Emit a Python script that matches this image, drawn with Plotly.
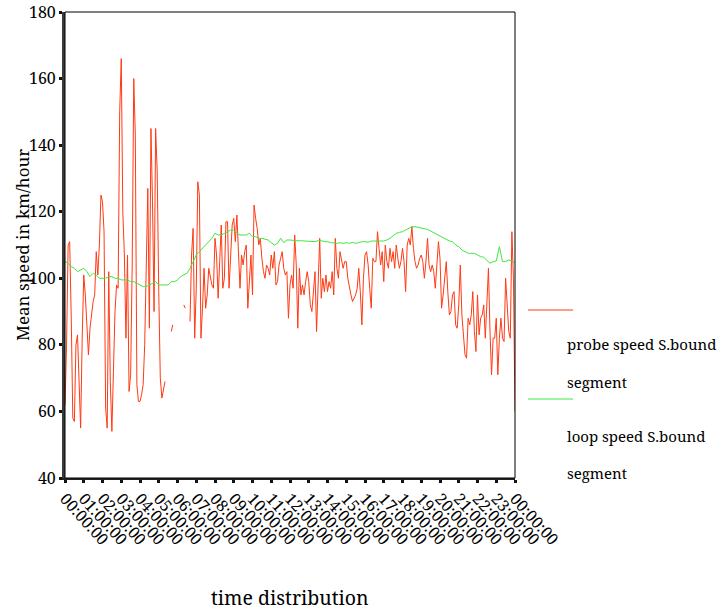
import plotly.graph_objects as go

# ---------------- data ----------------
tick_hours = list(range(25))
tick_labels = ["00:00:00", "01:00:00", "02:00:00", "03:00:00", "04:00:00",
               "05:00:00", "06:00:00", "07:00:00", "08:00:00", "09:00:00",
               "10:00:00", "11:00:00", "12:00:00", "13:00:00", "14:00:00",
               "15:00:00", "16:00:00", "17:00:00", "18:00:00", "19:00:00",
               "20:00:00", "21:00:00", "22:00:00", "23:00:00", "00:00:00"]

# probe speed, S.bound segment: one value every 5 minutes (None = no data)
probe_speed = [
    62, 80, 110, 111, 88, 58, 57, 80, 83, 66, 55, 82,            # 00h
    101, 95, 85, 77, 85, 89, 93, 95, 108, 101, 110, 125,         # 01h
    123, 114, 61, 55, 102, 69, 54, 72, 90, 98, 97, 150,          # 02h
    166, 120, 107, 82, 107, 66, 71, 104, 160, 143, 68, 63,       # 03h
    63, 65, 68, 80, 110, 127, 85, 145, 123, 90, 145, 132,        # 04h
    96, 70, 64, 67, 69, None, None, None, 84, 86, None, None,    # 05h
    None, None, None, None, 92, 91, None, None, 87, 107, 115, 82,  # 06h
    97, 129, 125, 82, 91, 103, 91, 95, 103, 101, 98, 97,         # 07h
    112, 107, 94, 105, 116, 97, 100, 117, 117, 97, 105, 116,     # 08h
    118, 111, 119, 108, 97, 107, 104, 108, 110, 91, 100, 107,    # 09h
    95, 122, 118, 115, 110, 112, 106, 102, 100, 104, 103, 101,   # 10h
    107, 103, 108, 98, 99, 104, 106, 108, 103, 101, 102, 88,     # 11h
    98, 101, 97, 113, 104, 85, 103, 95, 98, 95, 99, 102,         # 12h
    99, 92, 90, 96, 102, 84, 100, 112, 94, 100, 96, 101,         # 13h
    96, 99, 97, 102, 95, 112, 103, 100, 108, 105, 103, 105,      # 14h
    105, 100, 97, 95, 93, 94, 95, 97, 103, 96, 86, 100,          # 15h
    107, 108, 104, 97, 91, 106, 105, 105, 114, 109, 104, 108,    # 16h
    99, 110, 105, 103, 109, 105, 108, 103, 110, 106, 103, 105,   # 17h
    109, 105, 96, 110, 112, 110, 115.5, 109, 105, 103, 104, 106, # 18h
    107, 105, 100, 105, 112, 104, 102, 104, 102, 97, 106, 111,   # 19h
    106, 91, 95, 100, 105, 96, 89, 90, 95, 96, 86, 85,           # 20h
    92, 104, 89, 83, 77, 76, 88, 86, 89, 96, 84, 78,             # 21h
    95, 83, 88, 89, 92, 82, 92, 103, 84, 71, 82, 82,             # 22h
    88, 71, 82, 88, 82, 81, 100, 92, 84, 82, 114, 100,           # 23h
    60,                                                          # 24h
]

# loop speed, S.bound segment: one value every 10 minutes
loop_speed = [
    105, 104.5, 103.5, 103, 102, 102.5,          # 00h
    103, 102, 100.5, 101.5, 101, 100,            # 01h
    100, 100, 100.5, 100.5, 100, 100,            # 02h
    99.5, 99.5, 99.5, 99, 99, 98.5,              # 03h
    98, 97.5, 97.5, 98, 98.5, 99,                # 04h
    98, 98, 98, 98, 99, 99,                      # 05h
    99.5, 100.5, 101, 101.5, 103, 105,           # 06h
    107, 108, 109, 110, 111, 112,                # 07h
    113.5, 113, 113, 113.5, 114, 114.5,          # 08h
    114.5, 113.5, 113, 113, 113, 113.5,          # 09h
    112.5, 112.5, 112, 112, 111.7, 111.5,        # 10h
    110.7, 110, 110.5, 112, 110.7, 111.5,        # 11h
    111.5, 111.3, 111.3, 111.3, 111.2, 111.2,    # 12h
    111, 111, 111, 111.3, 111.3, 111,            # 13h
    111, 110.7, 110.5, 110.5, 110.7, 110.5,      # 14h
    110.7, 110.5, 110.8, 110.5, 110.7, 111,      # 15h
    111, 110.8, 111.2, 111.2, 111, 111.2,        # 16h
    111.2, 111.5, 112, 112.8, 113.5, 113.8,      # 17h
    114, 114.5, 115, 115.5, 115.5, 115.3,        # 18h
    115.3, 115, 114.7, 114.2, 113.7, 113,        # 19h
    112.5, 112, 111.5, 111.2, 111, 110,          # 20h
    109.5, 108.5, 108, 107.5, 107.5, 107.5,      # 21h
    107, 106.5, 106.3, 105.5, 104.5, 105,        # 22h
    105.2, 109.5, 105, 105, 105.5, 105.2,        # 23h
    104.7,                                       # 24h
]

probe_time = [i * 5 / 60 for i in range(len(probe_speed))]
loop_time = [i * 10 / 60 for i in range(len(loop_speed))]

# ---------------- figure ----------------
FONT = "Noto Serif, DejaVu Serif, serif"
RED = "#ff3a14"
GREEN = "#3ee83e"

fig = go.Figure()
fig.add_trace(go.Scatter(x=probe_time, y=probe_speed, mode="lines",
                         line=dict(color=RED, width=1), connectgaps=False,
                         name="probe speed S.bound segment"))
fig.add_trace(go.Scatter(x=loop_time, y=loop_speed, mode="lines",
                         line=dict(color=GREEN, width=1),
                         name="loop speed S.bound segment"))

axis_common = dict(showgrid=False, zeroline=False, ticks="outside",
                   ticklen=3, tickwidth=3, tickcolor="#111",
                   ticklabeloverflow="allow", automargin=False)

fig.update_xaxes(range=[0, 24], tickvals=tick_hours, ticktext=tick_labels,
                 tickangle=48, showline=True, linecolor="#222", linewidth=2,
                 tickfont=dict(family=FONT, size=16, color="#000"),
                 **axis_common)
fig.update_yaxes(range=[40, 180], dtick=20, showline=True,
                 linecolor="#3a3a3a", linewidth=3,
                 tickfont=dict(family=FONT, size=16, color="#000"),
                 **axis_common)

fig.add_shape(type="rect", xref="paper", yref="paper", x0=0, x1=1, y0=0, y1=1,
              line=dict(color="#000", width=1), layer="above")

# manual legend
legend_items = [
    (RED, 0.3605, ["probe speed S.bound", "segment"], [0.2876, 0.206]),
    (GREEN, 0.1695, ["loop speed S.bound", "segment"], [0.0908, 0.0114]),
]
for color, ly, texts, tys in legend_items:
    fig.add_shape(type="line", xref="paper", yref="paper",
                  x0=1.029, x1=1.129, y0=ly, y1=ly,
                  line=dict(color=color, width=1))
    for t, ty in zip(texts, tys):
        fig.add_annotation(text=t, xref="paper", yref="paper", x=1.111, y=ty,
                           xanchor="left", yanchor="middle", showarrow=False,
                           font=dict(family=FONT, size=15, color="#000"))

# axis titles
fig.add_annotation(text="Mean speed in km/hour", xref="paper", yref="paper",
                   x=-0.0955, y=0.5, xanchor="center", yanchor="middle",
                   textangle=-90, showarrow=False,
                   font=dict(family=FONT, size=17, color="#000"))
fig.add_annotation(text="time distribution", xref="paper", yref="paper",
                   x=0.5, y=-0.2554, xanchor="center", yanchor="middle",
                   showarrow=False, font=dict(family=FONT, size=19.5, color="#000"))

fig.update_layout(width=723, height=610, showlegend=False,
                  margin=dict(l=65, r=208, t=12, b=132),
                  paper_bgcolor="white", plot_bgcolor="white")

fig.write_html("out.html")
